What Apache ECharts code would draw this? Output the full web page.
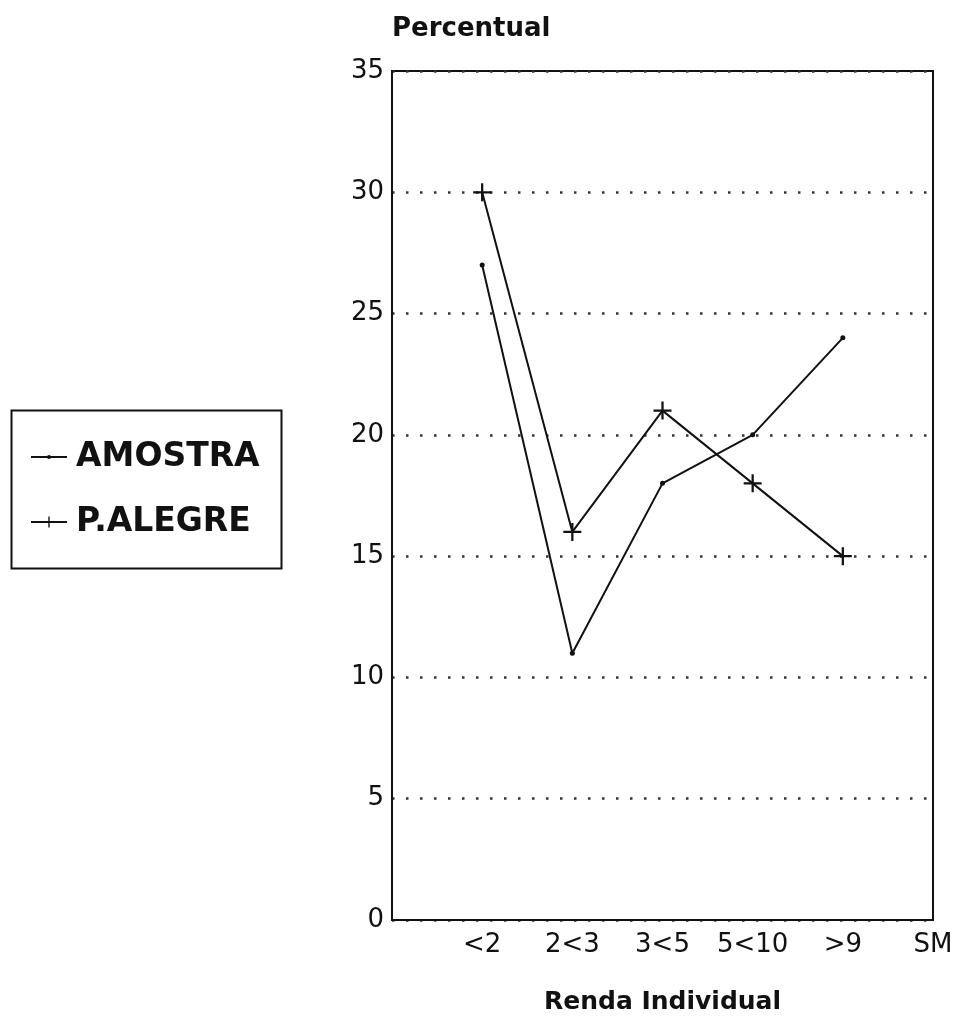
<!DOCTYPE html>
<html>
<head>
<meta charset="utf-8">
<script src="https://cdn.jsdelivr.net/npm/echarts@6/dist/echarts.min.js"></script>
<style>html,body{margin:0;padding:0;background:#fff;}#c{width:961px;height:1021px;}</style>
</head>
<body>
<div id="c"></div>
<script>
const categories = ['', '<2', '2<3', '3<5', '5<10', '>9', 'SM'];
const amostra = [null, 27, 11, 18, 20, 24, null];
const pAlegre = [null, 30, 16, 21, 18, 15, null];
const yTicks = [0, 5, 10, 15, 20, 25, 30, 35];

const FONT = 'DejaVu Sans';
const INK = '#111';
const plus = 'path://M7,0 H9 V7 H16 V9 H9 V16 H7 V9 H0 V7 H7 Z';

const chart = echarts.init(document.getElementById('c'), null, {renderer: 'canvas'});
chart.setOption({
  backgroundColor: '#fff',
  animation: false,
  grid: {left: 392, right: 28, top: 71, bottom: 101, outerBoundsMode: 'none', containLabel: false,
         show: true, borderColor: INK, borderWidth: 2, backgroundColor: 'transparent'},
  xAxis: {
    type: 'category', data: categories, boundaryGap: false,
    name: 'Renda Individual', nameLocation: 'middle', nameGap: 70,
    nameTextStyle: {fontFamily: FONT, fontWeight: 'bold', fontSize: 25, color: INK},
    axisLine: {lineStyle: {color: INK, width: 2}},
    axisTick: {show: false},
    axisLabel: {fontFamily: FONT, fontSize: 26, color: INK, margin: 12, interval: 0},
    splitLine: {show: false}
  },
  yAxis: {
    type: 'value', min: yTicks[0], max: yTicks[yTicks.length - 1], interval: 5,
    name: 'Percentual', nameLocation: 'end', nameGap: 42,
    nameTextStyle: {fontFamily: FONT, fontWeight: 'bold', fontSize: 26, color: INK, align: 'left', verticalAlign: 'middle'},
    axisLine: {show: true, lineStyle: {color: INK, width: 2}},
    axisTick: {show: false},
    axisLabel: {fontFamily: FONT, fontSize: 26, color: INK, margin: 8},
    splitLine: {show: true, lineStyle: {color: '#333', width: 2.5, type: [2.5, 11.5]}}
  },
  legend: [
    {data: ['AMOSTRA'], left: 30, top: 437, padding: 0, itemWidth: 36, itemHeight: 5, orient: 'vertical',
     textStyle: {fontFamily: FONT, fontWeight: 'bold', fontSize: 33, color: INK, lineHeight: 40, padding: [0, 0, 0, 4]}},
    {data: ['P.ALEGRE'], left: 30, top: 502, padding: 0, itemWidth: 36, itemHeight: 14, orient: 'vertical',
     textStyle: {fontFamily: FONT, fontWeight: 'bold', fontSize: 33, color: INK, lineHeight: 40, padding: [0, 0, 0, 4]}}
  ],
  graphic: [
    {type: 'rect', left: 9, top: 408, shape: {width: 270, height: 158}, style: {fill: 'none', stroke: INK, lineWidth: 2}}
  ],
  series: [
    {name: 'AMOSTRA', type: 'line', data: amostra, symbol: 'circle', symbolSize: 5, showAllSymbol: true,
     lineStyle: {color: INK, width: 2}, itemStyle: {color: INK}},
    {name: 'P.ALEGRE', type: 'line', data: pAlegre, symbol: plus, symbolSize: 18, showAllSymbol: true,
     lineStyle: {color: INK, width: 2}, itemStyle: {color: INK}}
  ]
});
</script>
</body>
</html>
